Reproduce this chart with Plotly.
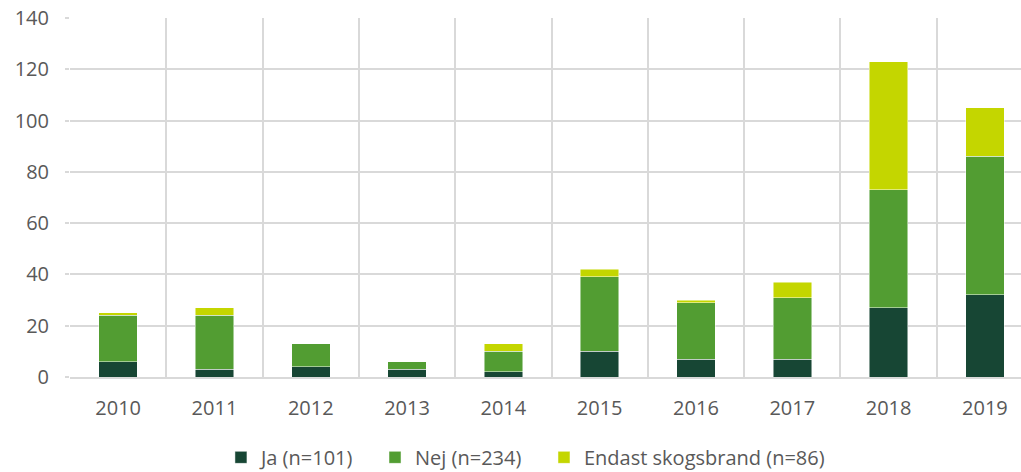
import plotly.graph_objects as go

years = ["2010", "2011", "2012", "2013", "2014", "2015", "2016", "2017", "2018", "2019"]
ja = [6, 3, 4, 3, 2, 10, 7, 7, 27, 32]
nej = [18, 21, 9, 3, 8, 29, 22, 24, 46, 54]
endast = [1, 3, 0, 0, 3, 3, 1, 6, 50, 19]
series_names = ["Ja (n=101)", "Nej (n=234)", "Endast skogsbrand (n=86)"]
colors = ["#174634", "#529D32", "#C4D600"]
y_ticks = [0, 20, 40, 60, 80, 100, 120, 140]

legend_ids = ["legend", "legend2", "legend3"]
legend_x = [0.2164, 0.3673, 0.5328]

fig = go.Figure()
for name, vals, col, lid in zip(series_names, [ja, nej, endast], colors, legend_ids):
    fig.add_trace(go.Bar(
        x=years, y=vals, name=name, legend=lid,
        marker=dict(color=col, line=dict(color="rgba(255,255,255,0.6)", width=0.8)),
        width=0.4,
    ))

font = "'Open Sans', sans-serif"
legend_common = dict(orientation="h", xref="container", yref="container",
                     xanchor="left", y=0.031, yanchor="middle",
                     font=dict(size=20, color="#595959"),
                     itemwidth=30, borderwidth=0, bgcolor="rgba(0,0,0,0)")
fig.update_layout(
    barmode="stack",
    width=1021, height=472,
    margin=dict(l=70, r=0, t=18, b=95),
    plot_bgcolor="white", paper_bgcolor="white",
    font=dict(family=font, size=20, color="#595959"),
    showlegend=True,
    legend=dict(x=legend_x[0], **legend_common),
    legend2=dict(x=legend_x[1], **legend_common),
    legend3=dict(x=legend_x[2], **legend_common),
)
fig.update_xaxes(
    type="category", tickson="boundaries", showgrid=True, gridcolor="#D9D9D9", gridwidth=1.5,
    range=[-0.5, 9.375], showline=True, linecolor="#D9D9D9", linewidth=1.5,
    ticks="", tickfont=dict(size=20, color="#595959"), fixedrange=True,
    automargin=False, ticklabelstandoff=12,
)
fig.update_yaxes(
    range=[0, 140], tickvals=y_ticks, showgrid=True, gridcolor="#D9D9D9", gridwidth=1.5,
    zeroline=False, showline=False, ticks="outside", ticklen=4, tickcolor="#D9D9D9",
    tickwidth=1.5, tickfont=dict(size=20, color="#595959"), ticklabelstandoff=12,
    automargin=False,
)
fig.write_html("out.html", config={"displayModeBar": False},
               post_script="document.body.style.margin='0';")
